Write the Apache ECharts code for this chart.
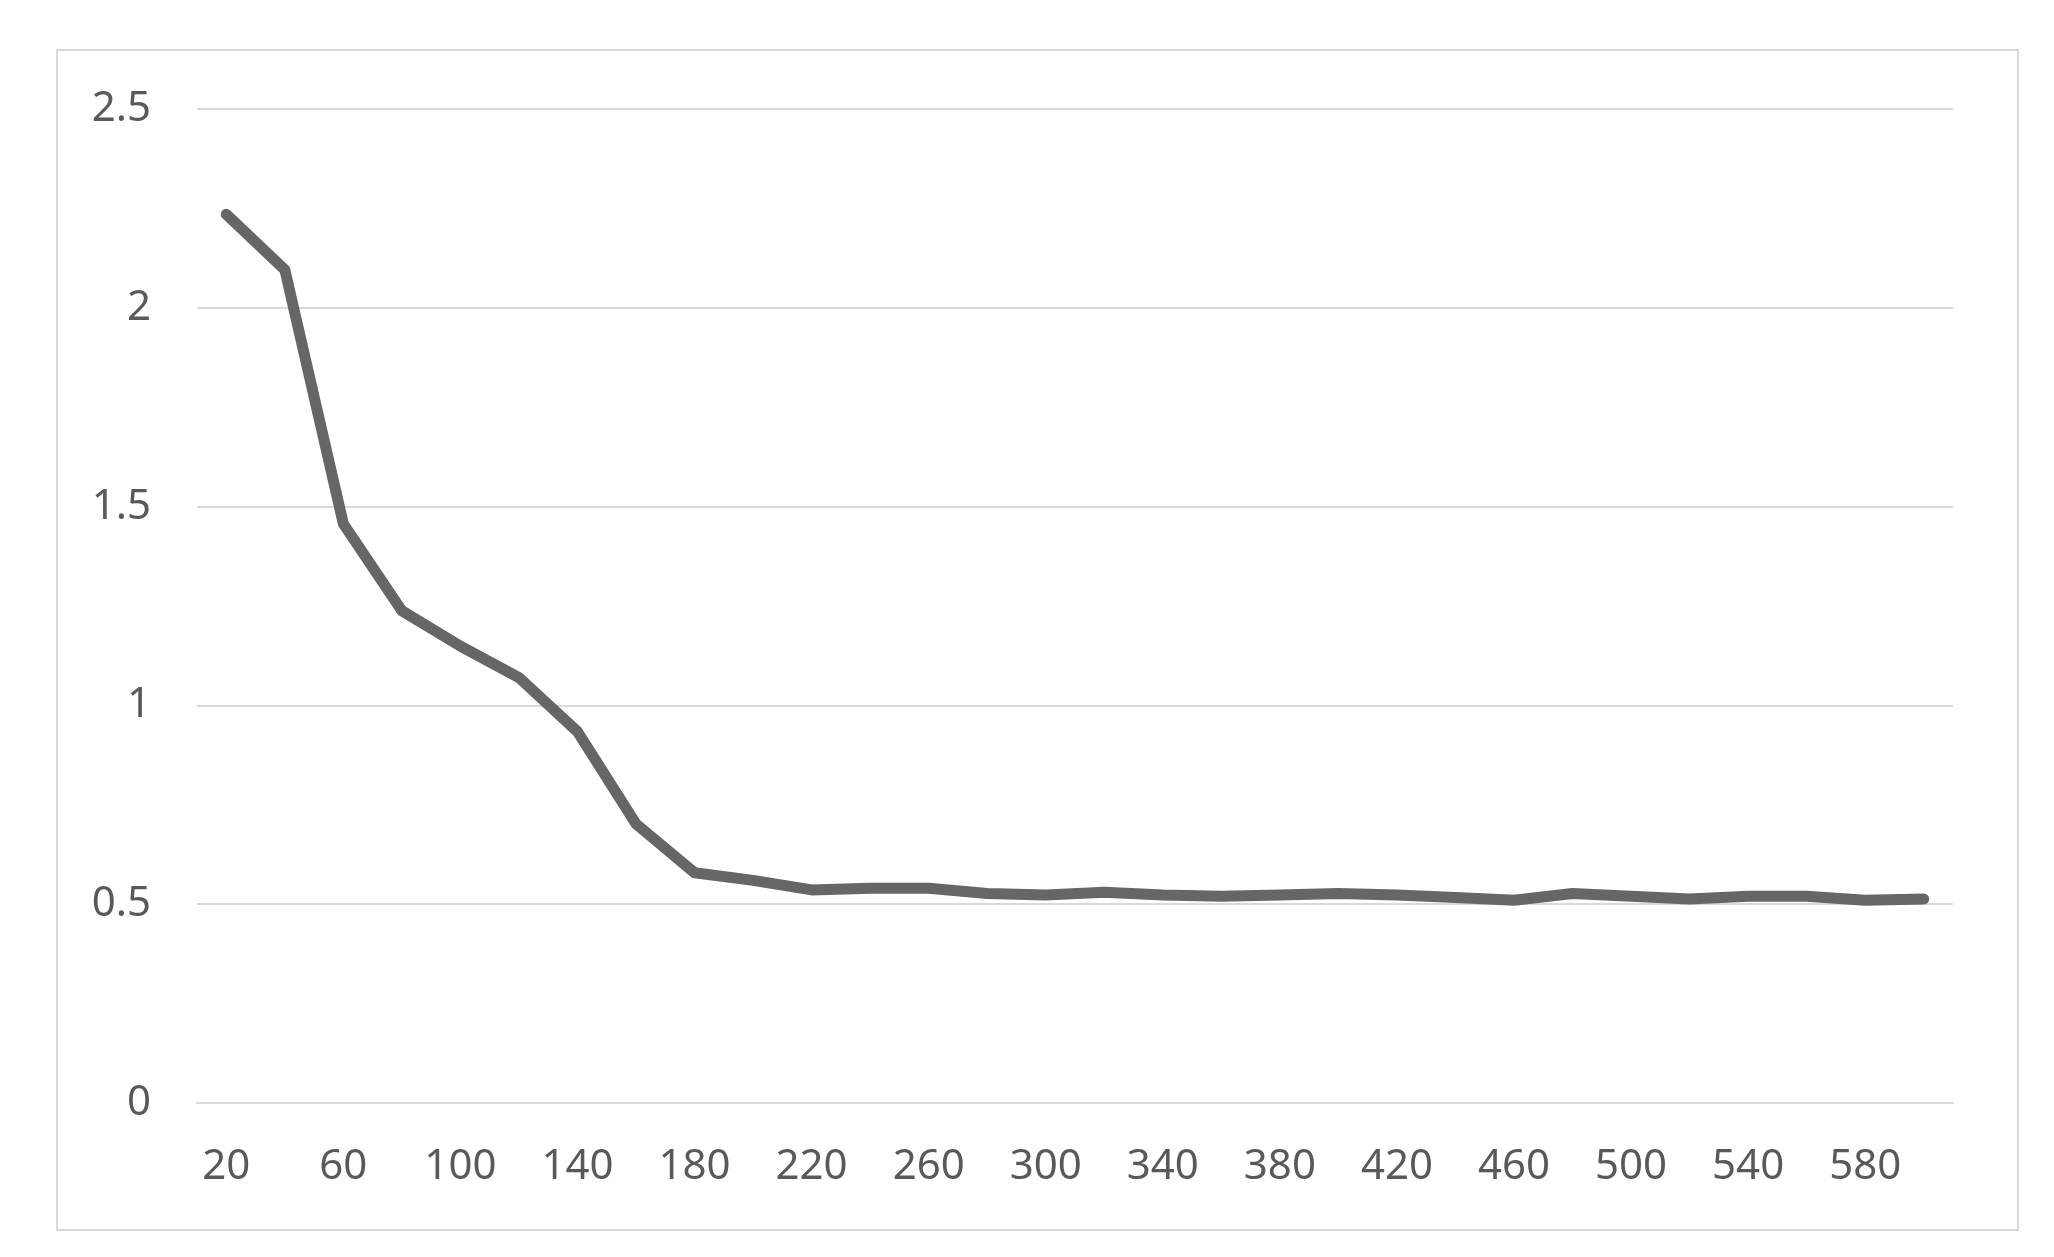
<!DOCTYPE html>
<html>
<head>
<meta charset="utf-8">
<script src="https://cdn.jsdelivr.net/npm/echarts@6/dist/echarts.min.js"></script>
<style>
html,body{margin:0;padding:0;background:#fff;}
#c{width:2054px;height:1257px;}
</style>
</head>
<body>
<div id="c"></div>
<script>
const categories = ['20','40','60','80','100','120','140','160','180','200','220','240','260','280','300','320','340','360','380','400','420','440','460','480','500','520','540','560','580','600'];
const values = [2.235,2.096,1.457,1.238,1.149,1.07,0.934,0.702,0.579,0.56,0.536,0.54,0.54,0.527,0.523,0.53,0.523,0.52,0.523,0.527,0.523,0.517,0.51,0.527,0.52,0.513,0.52,0.52,0.51,0.513];
const yTicks = {min:0, max:2.5, interval:0.5};

const chart = echarts.init(document.getElementById('c'));
chart.setOption({
  backgroundColor:'#fff',
  animation:false,
  graphic:[{type:'rect',shape:{x:57,y:50,width:1961,height:1180},style:{fill:'none',stroke:'#d9d9d9',lineWidth:2},silent:true}],
  grid:{left:197,right:101,top:109,bottom:154,containLabel:false},
  xAxis:{
    type:'category',
    data:categories,
    boundaryGap:true,
    axisLine:{show:true,lineStyle:{color:'#d9d9d9',width:2}},
    axisTick:{show:false},
    axisLabel:{interval:1,color:'#595959',fontSize:42,fontFamily:'Noto Sans',margin:43}
  },
  yAxis:{
    type:'value',
    min:yTicks.min,max:yTicks.max,interval:yTicks.interval,
    axisLine:{show:false},
    axisTick:{show:false},
    splitLine:{lineStyle:{color:'#d9d9d9',width:2}},
    axisLabel:{color:'#595959',fontSize:42,fontFamily:'Noto Sans',margin:46}
  },
  series:[{
    type:'line',
    data:values,
    symbol:'none',
    lineStyle:{color:'#666666',width:11,cap:'round',join:'round'}
  }]
});
</script>
</body>
</html>
